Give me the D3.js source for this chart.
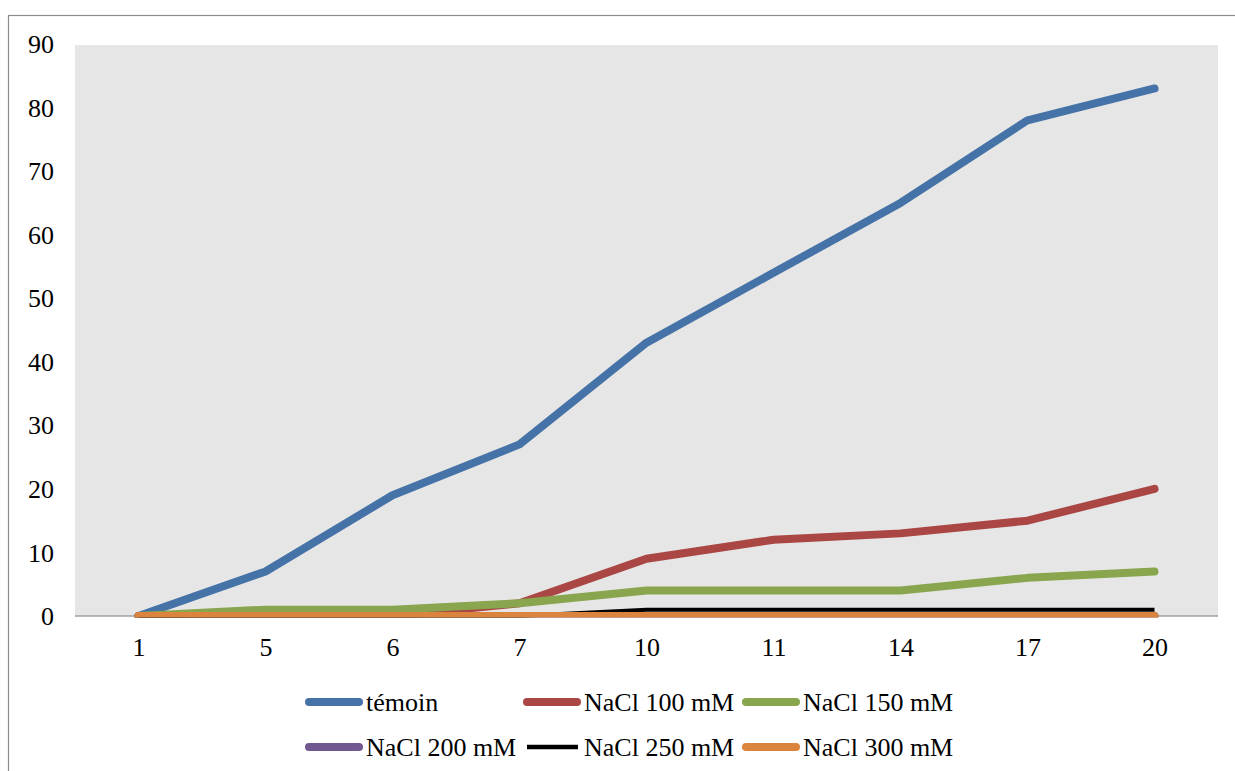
<!DOCTYPE html>
<html>
<head>
<meta charset="utf-8">
<script src="https://cdn.jsdelivr.net/npm/d3@7"></script>
<style>
  html, body { margin: 0; padding: 0; background: #fff; }
  svg { display: block; font-family: "Liberation Serif", "Times New Roman", serif; }
</style>
</head>
<body>
<svg id="chart" width="1235" height="771"></svg>
<script>
// Days of measurement
const days = ["1", "5", "6", "7", "10", "11", "14", "17", "20"];

// Series values, one per treatment
const temoin  = [0, 7, 19, 27, 43, 54, 65, 78, 83];
const nacl100 = [0, 0, 0, 2, 9, 12, 13, 15, 20];
const nacl150 = [0, 1, 1, 2, 4, 4, 4, 6, 7];
const nacl200 = [0, 0, 0, 0, 0, 0, 0, 0, 0];
const nacl250 = [0, 0, 0, 0, 1, 1, 1, 1, 1];
const nacl300 = [0, 0, 0, 0, 0, 0, 0, 0, 0];

const seriesNames = ["témoin", "NaCl 100 mM", "NaCl 150 mM", "NaCl 200 mM", "NaCl 250 mM", "NaCl 300 mM"];
const yTicks = [0, 10, 20, 30, 40, 50, 60, 70, 80, 90];

const series = [
  { name: seriesNames[0], values: temoin,  color: "#4572A7", width: 8, cap: "round" },
  { name: seriesNames[1], values: nacl100, color: "#AA4643", width: 8, cap: "round" },
  { name: seriesNames[2], values: nacl150, color: "#89A54E", width: 8, cap: "round" },
  { name: seriesNames[3], values: nacl200, color: "#71588F", width: 8, cap: "round" },
  { name: seriesNames[4], values: nacl250, color: "#000000", width: 4, cap: "butt" },
  { name: seriesNames[5], values: nacl300, color: "#DB843D", width: 8, cap: "round" }
];

const svg = d3.select("#chart");
const plot = { left: 75, right: 1218, top: 45, bottom: 616 };

// Outer chart frame
svg.append("rect")
  .attr("x", 8.5).attr("y", 15.5)
  .attr("width", 1300).attr("height", 900)
  .attr("fill", "none").attr("stroke", "#8c8c8c").attr("stroke-width", 1.2);

// Plot background
svg.append("rect")
  .attr("x", plot.left).attr("y", plot.top)
  .attr("width", plot.right - plot.left).attr("height", plot.bottom - plot.top)
  .attr("fill", "#e6e6e6");

// Series are clipped to the plot area (slightly below the baseline)
svg.append("clipPath").attr("id", "plot-clip")
  .append("rect")
  .attr("x", plot.left - 10).attr("y", plot.top - 10)
  .attr("width", plot.right - plot.left + 20)
  .attr("height", plot.bottom - plot.top + 11.5);

const x = d3.scalePoint().domain(days).range([plot.left, plot.right]).padding(0.5);
const y = d3.scaleLinear().domain([0, 90]).range([plot.bottom, 44]);

// Y axis labels
const yAxis = d3.axisLeft(y).tickValues(yTicks).tickSize(0).tickPadding(0);
const yg = svg.append("g").attr("transform", "translate(54,0)").call(yAxis);
yg.select(".domain").remove();
yg.attr("font-family", null);
yg.selectAll("text")
  .style("font-family", "'Liberation Serif', 'Times New Roman', serif")
  .attr("font-size", 26).attr("fill", "#000")
  .attr("dy", "0.33em").attr("x", 0);

// X axis (baseline + category labels)
const xAxis = d3.axisBottom(x).tickSize(0).tickPadding(0);
const xg = svg.append("g").attr("transform", `translate(0,${plot.bottom})`).call(xAxis);
xg.select(".domain").remove();
xg.attr("font-family", null);
xg.selectAll("text")
  .style("font-family", "'Liberation Serif', 'Times New Roman', serif")
  .attr("font-size", 26).attr("fill", "#000")
  .attr("dy", 0).attr("y", 40);
svg.append("line")
  .attr("x1", plot.left).attr("x2", plot.right)
  .attr("y1", plot.bottom).attr("y2", plot.bottom)
  .attr("stroke", "#a0a0a0").attr("stroke-width", 1.5);

// Series lines
const line = d3.line().x((d, i) => x(days[i])).y(d => y(d));
svg.append("g").attr("clip-path", "url(#plot-clip)")
  .selectAll("path")
  .data(series)
  .join("path")
  .attr("d", d => line(d.values))
  .attr("fill", "none")
  .attr("stroke", d => d.color)
  .attr("stroke-width", d => d.width)
  .attr("stroke-linecap", d => d.cap)
  .attr("stroke-linejoin", "round");

// Legend: two rows of three entries
const colX = [305, 523, 742];
const rowY = [702, 747];
const leg = svg.append("g").selectAll("g")
  .data(series)
  .join("g")
  .attr("transform", (d, i) => `translate(${colX[i % 3]},${rowY[Math.floor(i / 3)]})`);
leg.append("line")
  .attr("x1", 4)
  .attr("x2", d => d.cap === "round" ? 54 : 55)
  .attr("y1", 0).attr("y2", 0)
  .attr("stroke", d => d.color)
  .attr("stroke-width", d => d.cap === "round" ? 8 : 4.5)
  .attr("stroke-linecap", d => d.cap);
leg.append("text")
  .attr("x", 61).attr("y", 8.5)
  .attr("font-size", 26).attr("fill", "#000")
  .text(d => d.name);
</script>
</body>
</html>
